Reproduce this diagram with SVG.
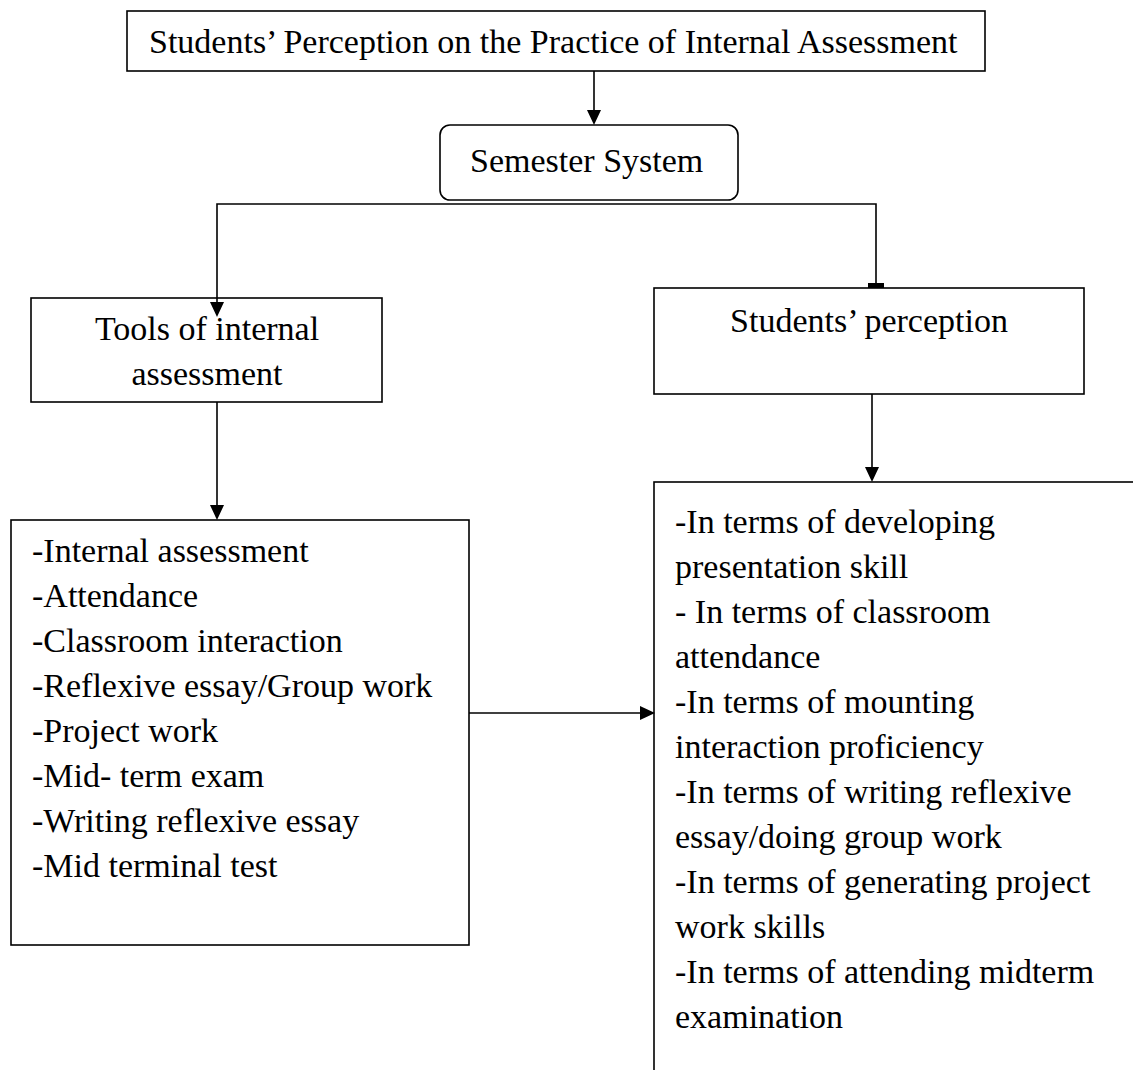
<svg xmlns="http://www.w3.org/2000/svg" width="1133" height="1070" viewBox="0 0 1133 1070">
<style>
.box{fill:#fff;stroke:#000;stroke-width:1.6}
.ln{fill:none;stroke:#000;stroke-width:1.6}
.t{font-family:"Liberation Serif","Times New Roman",serif;font-size:34px;fill:#000}
.m{text-anchor:middle}
.ah{fill:#000}
</style>
<rect width="1133" height="1070" fill="#fff"/>
<g id="n-title">
<rect class="box" x="127" y="11" width="858" height="60"/>
<text class="t" x="149" y="53">Students’ Perception on the Practice of Internal Assessment</text>
</g>
<g id="n-semester">
<rect class="box" x="440" y="125" width="298" height="75" rx="10" ry="10"/>
<text class="t" x="470" y="172">Semester System</text>
</g>
<g id="n-tools">
<rect class="box" x="31" y="298" width="351" height="104"/>
<text class="t m" x="207" y="340">Tools of internal</text>
<text class="t m" x="207" y="385">assessment</text>
</g>
<g id="n-perception">
<rect class="box" x="654" y="288" width="430" height="106"/>
<text class="t m" x="869" y="332">Students’ perception</text>
</g>
<g id="n-toollist">
<rect class="box" x="11" y="520" width="458" height="425"/>
<text class="t" x="32" y="562">-Internal assessment</text>
<text class="t" x="32" y="607">-Attendance</text>
<text class="t" x="32" y="652">-Classroom interaction</text>
<text class="t" x="32" y="697">-Reflexive essay/Group work</text>
<text class="t" x="32" y="742">-Project work</text>
<text class="t" x="32" y="787">-Mid- term exam</text>
<text class="t" x="32" y="832">-Writing reflexive essay</text>
<text class="t" x="32" y="877">-Mid terminal test</text>
</g>
<g id="n-perceptionlist">
<rect class="box" x="654" y="482" width="520" height="700"/>
<text class="t" x="675" y="533">-In terms of developing</text>
<text class="t" x="675" y="578">presentation skill</text>
<text class="t" x="675" y="623">- In terms of classroom</text>
<text class="t" x="675" y="668">attendance</text>
<text class="t" x="675" y="713">-In terms of mounting</text>
<text class="t" x="675" y="758">interaction proficiency</text>
<text class="t" x="675" y="803">-In terms of writing reflexive</text>
<text class="t" x="675" y="848">essay/doing group work</text>
<text class="t" x="675" y="893">-In terms of generating project</text>
<text class="t" x="675" y="938">work skills</text>
<text class="t" x="675" y="983">-In terms of attending midterm</text>
<text class="t" x="675" y="1028">examination</text>
</g>
<g id="connectors">
<line class="ln" x1="594" y1="71" x2="594" y2="112"/>
<polygon class="ah" points="587,110 601,110 594,125"/>
<polyline class="ln" points="217,302 217,204 876,204 876,284"/>
<polygon class="ah" points="210,302 224,302 217,317"/>
<rect class="ah" x="868" y="283" width="16" height="5"/>
<line class="ln" x1="217" y1="402" x2="217" y2="507"/>
<polygon class="ah" points="210,505 224,505 217,520"/>
<line class="ln" x1="872" y1="394" x2="872" y2="469"/>
<polygon class="ah" points="865,467 879,467 872,482"/>
<line class="ln" x1="469" y1="713" x2="642" y2="713"/>
<polygon class="ah" points="640,706 640,720 655,713"/>
</g>
</svg>
